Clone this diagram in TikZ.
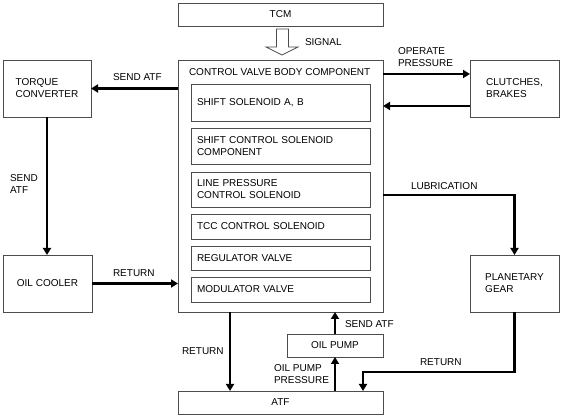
\documentclass[tikz,border=0pt]{standalone}
\usepackage{fontspec}
\setmainfont{Liberation Sans}
\usepackage{xcolor}
\usetikzlibrary{positioning,arrows.meta}

\begin{document}
\begin{tikzpicture}[x=1pt,y=1pt,
  box/.style={draw=boxColor,line width=0.7pt,inner sep=0pt,outer sep=0pt},
  part/.style={box,minimum width=179,text width=167,align=left,inner xsep=6pt},
  txt/.style={text=textColor,anchor=west,inner sep=0pt,outer sep=0pt,align=left},
  flow/.style={draw=lineColor,line width=2.2pt,-{Triangle[length=7pt,width=8pt]}},
  every node/.style={font=\fontsize{10}{12}\selectfont}]
\definecolor{fillColor}{RGB}{255,255,255}
\definecolor{boxColor}{gray}{0.30}
\definecolor{lineColor}{RGB}{0,0,0}
\definecolor{textColor}{RGB}{0,0,0}
\path[use as bounding box,fill=fillColor] (0,0) rectangle (575,417);

% main boxes
\node[box,minimum width=205,minimum height=23] (tcm) at (280.5,402.5) {TCM};
\node[box,minimum width=205,minimum height=252] (cvb) at (280.5,231) {};
\node[txt] (cvbtitle) at (189,345) {CONTROL VALVE BODY COMPONENT};
\node[box,minimum width=88,minimum height=57,align=left] (tc) at (47,328.5) {TORQUE\\CONVERTER};
\node[box,minimum width=89,minimum height=57] (oc) at (47.5,133.5) {OIL COOLER};
\node[box,minimum width=89,minimum height=57,align=left] (cl) at (514.5,328.5) {CLUTCHES,\\BRAKES};
\node[box,minimum width=89,minimum height=57,align=left] (pg) at (514.5,133.5) {PLANETARY\\GEAR};
\node[box,minimum width=96,minimum height=23] (op) at (335,71.5) {OIL PUMP};
\node[box,minimum width=205,minimum height=23] (atf) at (280.5,14.5) {ATF};

% parts of the control valve body
\node[part,minimum height=37] (ssol) at (280.5,314.5) {SHIFT SOLENOID A, B};
\node[part,minimum height=36] (scsol) at (280.5,271) {SHIFT CONTROL SOLENOID\\COMPONENT};
\node[part,minimum height=35] (lpsol) at (280.5,227.5) {LINE PRESSURE\\CONTROL SOLENOID};
\node[part,minimum height=25] (tccsol) at (280.5,190.5) {TCC CONTROL SOLENOID};
\node[part,minimum height=24] (regv) at (280.5,159) {REGULATOR VALVE};
\node[part,minimum height=25] (modv) at (280.5,127.5) {MODULATOR VALVE};

% signal arrow
\path[draw=boxColor,line width=0.7pt,line join=miter,fill=fillColor] (276.5,388) -- (288.5,388) --
	(288.5,370) -- (298,370) -- (282,362) -- (266,370) -- (276.5,370) -- cycle;
\node[txt] (signal) at (305,375) {SIGNAL};

% flows
\coordinate (retc) at (363,45);
\draw[flow] (cvb.west |- tc.east) -- (tc.east);
\draw[flow] (tc.south) -- (tc.south |- oc.north);
\draw[flow] (oc.east) -- (oc.east -| cvb.west);
\draw[flow] ([yshift=14.5pt]cl.west -| cvb.east) -- ([yshift=14.5pt]cl.west);
\draw[flow] ([yshift=-17.5pt]cl.west) -- ([yshift=-17.5pt]cl.west -| cvb.east);
\draw[flow] ([yshift=-9pt]cvb.east) -| (pg.north);
\draw[flow] (pg.south) |- (retc) -- (retc |- atf.north);
\draw[flow] ([xshift=-50.5pt]cvb.south) -- ([xshift=-50.5pt]cvb.south |- atf.north);
\draw[flow] (op.north) -- (op.north |- cvb.south);
\draw[flow] (atf.north -| op.south) -- (op.south);

% labels
\node[txt] (sendtc) at (113,340) {SEND ATF};
\node[txt] (sendoc) at (10,233) {SEND\\ATF};
\node[txt] (retoc) at (113,144) {RETURN};
\node[txt] (retatf) at (182,66) {RETURN};
\node[txt] (operate) at (398,359.5) {OPERATE\\PRESSURE};
\node[txt] (lub) at (411,231) {LUBRICATION};
\node[txt] (sendop) at (345,93) {SEND ATF};
\node[txt] (oppress) at (274,43) {OIL PUMP\\PRESSURE};
\node[txt] (retpg) at (420,55) {RETURN};
\end{tikzpicture}
\end{document}
